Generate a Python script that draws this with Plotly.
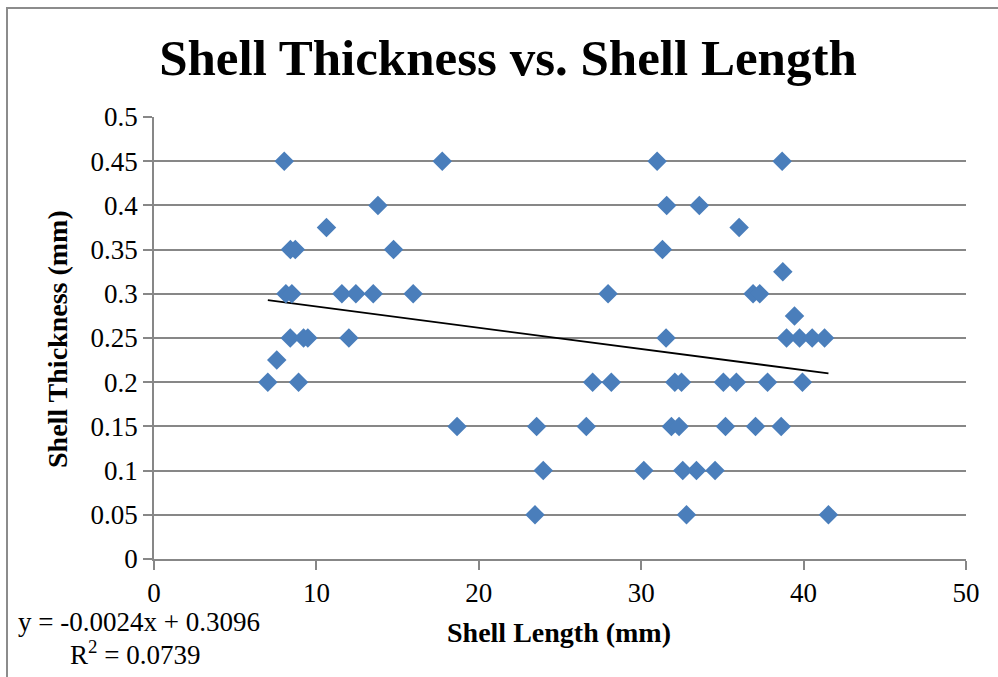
import plotly.graph_objects as go

# Data
shell_length = [
    8.02, 17.75, 13.79, 10.62, 8.4, 8.7, 14.75,
    8.12, 8.49, 11.57, 12.43, 13.5, 15.96,
    8.39, 9.21, 9.47, 12.0, 7.56, 7.01, 8.9, 18.66,
    30.98, 38.68, 31.57, 33.58, 36.03, 31.31, 38.72,
    27.96, 36.89, 37.3, 39.44, 31.53,
    38.95, 39.75, 40.53, 41.29,
    27.01, 28.16, 32.07, 32.48, 35.06, 35.86, 37.78, 39.93,
    23.56, 26.62, 31.86, 32.33, 35.19, 37.04, 38.62,
    23.97, 30.16, 32.56, 33.4, 34.55,
    23.46, 32.79, 41.53,
]
shell_thickness = [
    0.45, 0.45, 0.4, 0.375, 0.35, 0.35, 0.35,
    0.3, 0.3, 0.3, 0.3, 0.3, 0.3,
    0.25, 0.25, 0.25, 0.25, 0.225, 0.2, 0.2, 0.15,
    0.45, 0.45, 0.4, 0.4, 0.375, 0.35, 0.325,
    0.3, 0.3, 0.3, 0.275, 0.25,
    0.25, 0.25, 0.25, 0.25,
    0.2, 0.2, 0.2, 0.2, 0.2, 0.2, 0.2, 0.2,
    0.15, 0.15, 0.15, 0.15, 0.15, 0.15, 0.15,
    0.1, 0.1, 0.1, 0.1, 0.1,
    0.05, 0.05, 0.05,
]
slope = -0.0024
intercept = 0.3096
r_squared = 0.0739

y_tickvals = [0, 0.05, 0.1, 0.15, 0.2, 0.25, 0.3, 0.35, 0.4, 0.45, 0.5]
y_ticktext = ["0", "0.05", "0.1", "0.15", "0.2", "0.25", "0.3", "0.35", "0.4", "0.45", "0.5"]
x_tickvals = [0, 10, 20, 30, 40, 50]

FONT = "Liberation Serif"
GRID = "#878787"

trend_x = [min(shell_length), max(shell_length)]
trend_y = [slope * v + intercept for v in trend_x]

fig = go.Figure()
fig.add_trace(go.Scatter(
    x=trend_x, y=trend_y, mode="lines",
    line=dict(color="black", width=1.8), showlegend=False, hoverinfo="skip",
))
fig.add_trace(go.Scatter(
    x=shell_length, y=shell_thickness, mode="markers",
    marker=dict(symbol="diamond", size=15, color="#4A7EBB", line=dict(width=0)),
    showlegend=False,
))

L, R, T, B = 154, 32, 117, 118
W, H = 998, 677
pw = W - L - R
ph = H - T - B


def px_x(p):
    return (p - L) / pw


def px_y(p):
    return (H - B - p) / ph


fig.update_layout(
    width=W, height=H,
    margin=dict(l=L, r=R, t=T, b=B),
    paper_bgcolor="white", plot_bgcolor="white",
    font=dict(family=FONT, color="black"),
    title=dict(
        text="<b>Shell Thickness vs. Shell Length</b>",
        x=0.509, xanchor="center", y=1 - 57 / H, yanchor="middle",
        font=dict(family=FONT, size=51, color="black"),
    ),
    xaxis=dict(
        range=[0, 50], tickvals=x_tickvals, showgrid=False, zeroline=False,
        showline=True, linecolor=GRID, linewidth=1.5,
        ticks="outside", ticklen=9, tickcolor=GRID, tickwidth=1.5,
        tickfont=dict(family=FONT, size=27, color="black"),
    ),
    yaxis=dict(
        range=[0, 0.5], tickvals=y_tickvals, ticktext=y_ticktext,
        showgrid=True, gridcolor=GRID, gridwidth=1.5, zeroline=False,
        showline=True, linecolor=GRID, linewidth=1.5,
        ticks="outside", ticklen=9, tickcolor=GRID, tickwidth=1.5,
        ticksuffix="\u2002",
        tickfont=dict(family=FONT, size=27, color="black"),
    ),
    shapes=[dict(
        type="rect", xref="paper", yref="paper",
        x0=px_x(7), x1=px_x(W + 20),
        y0=px_y(H + 20), y1=px_y(8),
        line=dict(color="#8c8c8c", width=2), fillcolor="rgba(0,0,0,0)", layer="below",
    )],
    annotations=[
        dict(
            text="<b>Shell Length (mm)</b>", xref="paper", yref="paper",
            x=px_x(559), y=px_y(632), xanchor="center", yanchor="middle",
            showarrow=False, font=dict(family=FONT, size=28, color="black"),
        ),
        dict(
            text="<b>Shell Thickness (mm)</b>", xref="paper", yref="paper",
            x=px_x(57), y=px_y(339), xanchor="center", yanchor="middle", textangle=-90,
            showarrow=False, font=dict(family=FONT, size=28, color="black"),
        ),
        dict(
            text=f"y = {slope}x + {intercept}", xref="paper", yref="paper",
            x=px_x(139), y=px_y(622), xanchor="center", yanchor="middle",
            showarrow=False, font=dict(family=FONT, size=27, color="black"),
        ),
        dict(
            text=f"R<sup>2</sup> = {r_squared}", xref="paper", yref="paper",
            x=px_x(135), y=px_y(653), xanchor="center", yanchor="middle",
            showarrow=False, font=dict(family=FONT, size=27, color="black"),
        ),
    ],
)

fig.write_html("out.html")
